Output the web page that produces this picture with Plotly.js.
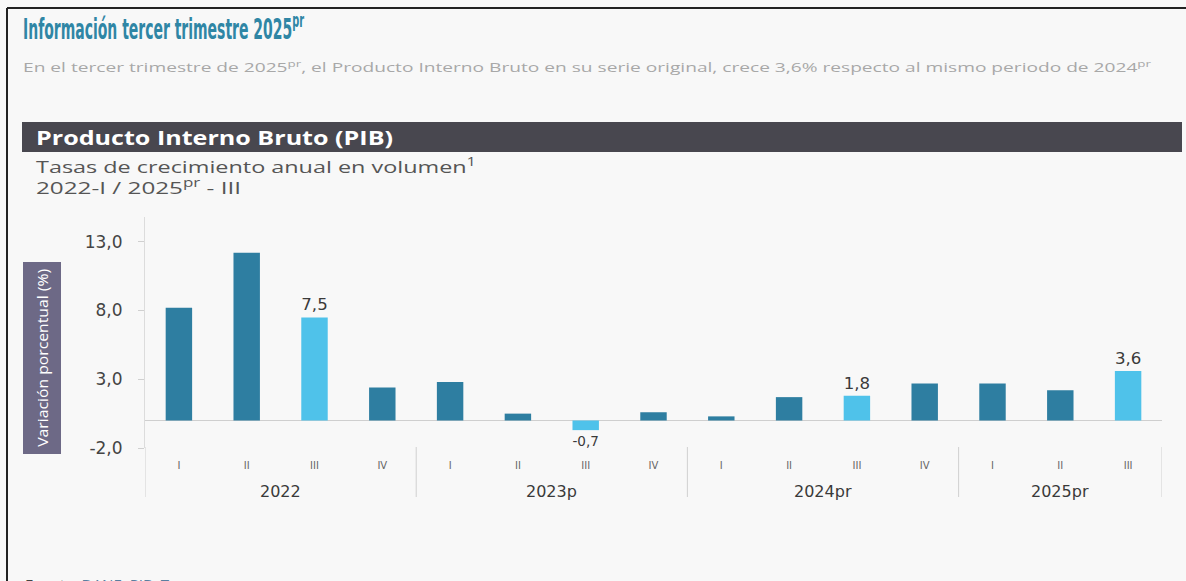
<!DOCTYPE html>
<html>
<head>
<meta charset="utf-8">
<script src="https://cdn.plot.ly/plotly-3.0.1.min.js"></script>
<style>
html,body{margin:0;padding:0;background:#f8f8f8;}
#chart{width:1186px;height:581px;}
</style>
</head>
<body>
<div id="chart"></div>
<script>
// ---- data ----
const years = ["2022","2022","2022","2022","2023p","2023p","2023p","2023p","2024pr","2024pr","2024pr","2024pr","2025pr","2025pr","2025pr"];
const quarters = ["I","II","III","IV","I","II","III","IV","I","II","III","IV","I","II","III"];
const values = [8.2, 12.2, 7.5, 2.4, 2.8, 0.5, -0.7, 0.6, 0.3, 1.7, 1.8, 2.7, 2.7, 2.2, 3.6];
const yearLabels = ["2022","2023p","2024pr","2025pr"];
const yTicks = [-2, 3, 8, 13];

// ---- helpers ----
const cats = years.map((y,i)=> y + "-" + quarters[i]);
const isThird = quarters.map(q => q === "III");
const fmt = v => v.toFixed(1).replace(".", ",");

const PL = 145, PR = 1162, PT = 217, PB = 448;
const W = 1186, H = 581;
const X = px => (px - PL) / (PR - PL);
const Y = py => (PB - py) / (PB - PT);

const dark = "#2e7ea1", light = "#4fc2ea";

const trace = {
  type: "bar",
  x: cats,
  y: values,
  marker: {color: isThird.map(t => t ? light : dark)},
  text: values.map((v,i)=> isThird[i] ? fmt(v) : ""),
  textposition: "outside",
  textfont: {family: "DejaVu Sans", size: 17, color: "#3a3a3a"},
  cliponaxis: false,
  hoverinfo: "skip"
};

// year groups
const groups = [];
yearLabels.forEach(yl => {
  const idx = years.map((y,i)=> y===yl ? i : -1).filter(i=>i>=0);
  groups.push({label: yl, start: idx[0], end: idx[idx.length-1]});
});

const shapes = [
  {type:"line", xref:"paper", yref:"paper", x0:X(7), x1:X(1186), y0:Y(8), y1:Y(8), line:{color:"#222", width:2}},
  {type:"line", xref:"paper", yref:"paper", x0:X(7), x1:X(7), y0:Y(8), y1:Y(581), line:{color:"#222", width:2}},
  {type:"rect", xref:"paper", yref:"paper", x0:X(22), x1:X(1182), y0:Y(122), y1:Y(152), fillcolor:"#48474f", line:{width:0}},
  {type:"rect", xref:"paper", yref:"paper", x0:X(23), x1:X(61), y0:Y(262), y1:Y(454), fillcolor:"#6d6986", line:{width:0}}
];
const divs = [-0.5].concat(groups.map(g => g.end + 0.5));
divs.forEach(d => {
  shapes.push({type:"line", xref:"x", yref:"paper", x0:d, x1:d, y0:Y(447), y1:Y(497), line:{color:"#d0d0d0", width:1}});
});

const annotations = [
  {xref:"paper", yref:"paper", x:X(21), y:Y(27), xanchor:"left", yanchor:"middle", showarrow:false,
   text:"<b>Información tercer trimestre 2025<sup>pr</sup></b>",
   font:{family:"DejaVu Sans Condensed, DejaVu Sans", size:28, color:"#2f86a5"}},
  {xref:"paper", yref:"paper", x:X(21), y:Y(67), xanchor:"left", yanchor:"middle", showarrow:false,
   text:"En el tercer trimestre de 2025<sup>pr</sup>, el Producto Interno Bruto en su serie original, crece 3,6% respecto al mismo periodo de 2024<sup>pr</sup>",
   font:{family:"Open Sans", size:12, color:"#a8a8a8"}},
  {xref:"paper", yref:"paper", x:X(34), y:Y(137), xanchor:"left", yanchor:"middle", showarrow:false,
   text:"<b>Producto Interno Bruto (PIB)</b>",
   font:{family:"Open Sans", size:20, color:"#ffffff"}},
  {xref:"paper", yref:"paper", x:X(34), y:Y(165), xanchor:"left", yanchor:"middle", showarrow:false,
   text:"Tasas de crecimiento anual en volumen<sup>1</sup>",
   font:{family:"Open Sans", size:17, color:"#555555"}},
  {xref:"paper", yref:"paper", x:X(34), y:Y(186), xanchor:"left", yanchor:"middle", showarrow:false,
   text:"2022-I / 2025<sup>pr</sup> - III",
   font:{family:"Open Sans", size:17, color:"#555555"}},
  {xref:"paper", yref:"paper", x:X(42), y:Y(358), xanchor:"center", yanchor:"middle", showarrow:false, textangle:-90,
   text:"Variación porcentual (%)",
   font:{family:"Open Sans", size:14, color:"#ffffff"}},
  {xref:"paper", yref:"paper", x:X(23), y:Y(574), xanchor:"left", yanchor:"top", showarrow:false,
   text:"Fuente: <span style='color:#5a7fa0'>DANE, PIB, T</span>",
   font:{family:"Open Sans", size:12, color:"#444"}}
];
groups.forEach(g => {
  annotations.push({xref:"x", yref:"paper", x:(g.start+g.end)/2, y:Y(491), xanchor:"center", yanchor:"middle", showarrow:false,
    text:g.label, font:{family:"DejaVu Sans", size:16, color:"#3a3a3a"}});
});

// target text widths (px) for the wide/condensed lettering of the reference
const fits = [
  {i:0, len:281, left:true}, {i:1, len:1128, left:true}, {i:2, len:357, left:true},
  {i:3, len:440, left:true}, {i:4, len:205, left:true}, {i:5, len:178, left:false}, {i:6, len:144, left:true}
];

const layout = {
  width: W, height: H,
  margin: {l: PL, r: W-PR, t: PT, b: H-PB, pad: 0},
  paper_bgcolor: "#f8f8f8",
  plot_bgcolor: "rgba(0,0,0,0)",
  separators: ",.",
  showlegend: false,
  bargap: 0.61,
  xaxis: {
    type: "category",
    tickvals: cats,
    ticktext: quarters,
    tickfont: {family: "DejaVu Sans", size: 10, color: "#666"},
    ticks: "", ticklabelstandoff: 10,
    showgrid: false, zeroline: false, showline: false,
    range: [-0.5, cats.length - 0.5]
  },
  yaxis: {
    range: [-2, 14.8],
    tickvals: yTicks,
    ticktext: yTicks.map(fmt),
    tickfont: {family: "DejaVu Sans", size: 17, color: "#444"},
    ticks: "outside", ticklen: 6, tickcolor: "#d0d0d0",
    ticklabelstandoff: 12,
    showgrid: false,
    showline: true, linecolor: "#dcdcdc", linewidth: 1,
    zeroline: true, zerolinecolor: "#cfcfcf", zerolinewidth: 1
  },
  shapes: shapes,
  annotations: annotations
};

Plotly.newPlot("chart", [trace], layout, {displayModeBar: false, staticPlot: true}).then(gd => {
  const groupsEl = gd.querySelectorAll("g.annotation");
  fits.forEach(f => {
    let g = gd.querySelector('g.annotation[data-index="' + f.i + '"]') || groupsEl[f.i];
    if (!g) return;
    const t = g.querySelector("text.annotation-text") || g.querySelector("text");
    if (!t) return;
    const b0 = t.getBBox();
    if (f.left) {
      t.setAttribute("text-anchor", "start");
      t.setAttribute("x", b0.x);
    }
    t.setAttribute("textLength", f.len);
    t.setAttribute("lengthAdjust", "spacingAndGlyphs");
  });
});
</script>
</body>
</html>
